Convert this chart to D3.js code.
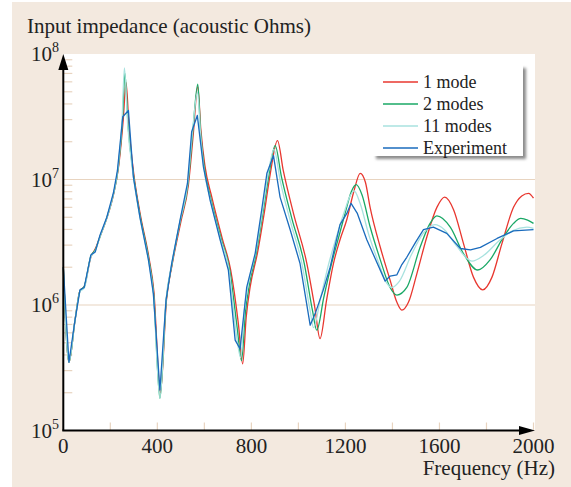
<!DOCTYPE html>
<html>
<head>
<meta charset="utf-8">
<script src="https://d3js.org/d3.v7.min.js"></script>
<style>
    body { margin: 0; background: #ffffff; }
    svg { display: block; font-family: "Liberation Serif", "DejaVu Serif", serif; }
</style>
</head>
<body>
<div id="chart"></div>
<script>
// series values: [frequency (Hz), impedance (acoustic Ohms)]
const oneMode = [
    [0, 2.0e6], [24, 3.5e5], [50, 7.6e5], [71, 1.3e6], [89, 1.4e6], [117, 2.4e6], [136, 2.8e6],
    [156, 3.5e6], [185, 4.9e6], [213, 7.5e6], [236, 1.3e7], [255, 3.0e7], [267, 5.9e7], [280, 2.5e7],
    [300, 1.1e7], [328, 5.2e6], [364, 2.4e6], [385, 1.3e6], [413, 2.0e5], [439, 1.1e6], [463, 2.1e6],
    [500, 4.6e6], [532, 9.0e6], [552, 2.2e7], [572, 5.5e7], [585, 2.5e7], [602, 1.3e7], [632, 7.2e6],
    [676, 3.4e6], [712, 1.9e6], [745, 7.0e5], [763, 3.4e5], [778, 8.0e5], [795, 1.4e6], [826, 2.6e6],
    [856, 5.6e6], [880, 1.1e7], [911, 2.04e7], [936, 1.17e7], [979, 5.37e6], [1036, 2.14e6],
    [1070, 9.5e5], [1092, 5.4e5], [1120, 1.1e6], [1149, 2.14e6], [1177, 3.31e6], [1206, 4.8e6],
    [1234, 7.8e6], [1263, 1.12e7], [1285, 9.5e6], [1305, 6.0e6], [1348, 2.9e6], [1390, 1.58e6],
    [1419, 1.05e6], [1440, 9.1e5], [1468, 1.05e6], [1504, 1.78e6], [1546, 3.47e6], [1589, 6.0e6],
    [1622, 7.24e6], [1660, 5.75e6], [1702, 3.1e6], [1745, 1.66e6], [1784, 1.32e6], [1823, 1.66e6],
    [1866, 3.1e6], [1915, 6.0e6], [1950, 7.4e6], [1979, 7.76e6], [2000, 7.1e6]
];
const twoModes = [
    [0, 2.0e6], [24, 3.5e5], [50, 7.6e5], [71, 1.3e6], [89, 1.4e6], [117, 2.45e6], [136, 2.75e6],
    [156, 3.5e6], [185, 4.95e6], [213, 7.6e6], [234, 1.25e7], [252, 3.0e7], [262, 7.0e7], [276, 2.6e7],
    [299, 1.08e7], [327, 5.1e6], [363, 2.35e6], [384, 1.25e6], [411, 1.8e5], [438, 1.1e6], [462, 2.1e6],
    [498, 4.7e6], [530, 9.1e6], [550, 2.3e7], [572, 5.75e7], [584, 2.4e7], [599, 1.28e7], [628, 7.0e6],
    [672, 3.35e6], [708, 1.9e6], [740, 6.5e5], [758, 3.6e5], [774, 8.5e5], [790, 1.4e6], [821, 2.6e6],
    [851, 5.7e6], [875, 1.1e7], [901, 1.86e7], [928, 1.05e7], [972, 4.9e6], [1025, 2.14e6],
    [1060, 9.0e5], [1078, 6.3e5], [1108, 1.15e6], [1140, 2.1e6], [1170, 3.4e6], [1200, 5.5e6],
    [1225, 8.0e6], [1246, 9.1e6], [1270, 7.6e6], [1305, 4.2e6], [1348, 2.3e6], [1390, 1.38e6],
    [1419, 1.2e6], [1461, 1.38e6], [1518, 2.9e6], [1560, 4.47e6], [1589, 5.13e6], [1646, 4.17e6],
    [1702, 2.57e6], [1763, 1.9e6], [1816, 2.3e6], [1872, 3.47e6], [1915, 4.47e6], [1946, 4.9e6],
    [1975, 4.75e6], [2000, 4.47e6]
];
const elevenModes = [
    [0, 2.0e6], [24, 3.5e5], [50, 7.6e5], [71, 1.28e6], [89, 1.36e6], [117, 2.4e6], [136, 2.7e6],
    [156, 3.5e6], [185, 4.9e6], [213, 7.6e6], [233, 1.25e7], [250, 3.0e7], [260, 7.76e7], [274, 2.7e7],
    [298, 1.06e7], [326, 5.0e6], [362, 2.3e6], [383, 1.24e6], [411, 1.8e5], [437, 1.1e6], [461, 2.1e6],
    [497, 4.7e6], [529, 9.2e6], [549, 2.35e7], [571, 5.0e7], [583, 2.4e7], [597, 1.27e7], [626, 6.9e6],
    [670, 3.3e6], [705, 1.9e6], [736, 5.8e5], [755, 3.8e5], [770, 9.0e5], [785, 1.4e6], [818, 2.6e6],
    [848, 5.7e6], [871, 1.1e7], [896, 1.74e7], [924, 9.5e6], [968, 4.5e6], [1015, 2.14e6],
    [1050, 9.0e5], [1064, 6.6e5], [1095, 1.15e6], [1128, 2.1e6], [1160, 3.4e6], [1195, 5.5e6],
    [1220, 7.4e6], [1237, 8.13e6], [1262, 6.5e6], [1300, 3.6e6], [1340, 2.2e6], [1375, 1.5e6],
    [1397, 1.38e6], [1430, 1.55e6], [1480, 2.5e6], [1530, 3.7e6], [1581, 4.37e6], [1620, 4.0e6],
    [1670, 3.0e6], [1738, 2.24e6], [1790, 2.5e6], [1850, 3.2e6], [1910, 3.9e6], [1972, 4.17e6],
    [2000, 4.07e6]
];
const experiment = [
    [0, 2.0e6], [24, 3.5e5], [50, 7.6e5], [71, 1.32e6], [89, 1.38e6], [117, 2.5e6], [136, 2.65e6],
    [156, 3.6e6], [185, 5.0e6], [213, 7.8e6], [230, 1.17e7], [253, 3.16e7], [277, 3.55e7], [298, 1.05e7],
    [326, 5.0e6], [362, 2.3e6], [383, 1.23e6], [411, 2.1e5], [437, 1.1e6], [461, 2.14e6], [497, 4.8e6],
    [528, 9.3e6], [546, 2.4e7], [570, 3.24e7], [596, 1.26e7], [624, 6.9e6], [667, 3.31e6], [702, 1.9e6],
    [731, 5.25e5], [752, 4.47e5], [780, 1.38e6], [816, 2.57e6], [844, 5.75e6], [866, 1.12e7],
    [894, 1.55e7], [922, 7.24e6], [965, 3.98e6], [1007, 2.14e6], [1050, 6.9e5], [1071, 8.5e5],
    [1106, 1.32e6], [1135, 2.0e6], [1177, 4.37e6], [1206, 5.37e6], [1224, 6.46e6], [1250, 5.4e6],
    [1291, 3.31e6], [1369, 1.55e6], [1390, 1.7e6], [1419, 1.74e6], [1440, 2.1e6], [1461, 2.4e6],
    [1500, 3.2e6], [1532, 3.98e6], [1574, 4.17e6], [1631, 3.72e6], [1689, 2.82e6], [1732, 2.75e6],
    [1774, 2.88e6], [1845, 3.39e6], [1915, 3.89e6], [2000, 3.98e6]
];

const seriesNames = ["1 mode", "2 modes", "11 modes", "Experiment"];
const seriesColors = ["#e8372f", "#1aa866", "#a8e2df", "#1a6bbd"];
const xTicks = [0, 400, 800, 1200, 1600, 2000];
const xMinorTicks = [200, 400, 600, 800, 1000, 1200, 1400, 1600, 1800, 2000];
const yTicks = [1e5, 1e6, 1e7, 1e8];

const width = 571, height = 487;
const plotLeft = 63.3, plotRight = 533.5, plotTop = 54, plotBottom = 430.5;
const beige = "#f3e9df", gridBeige = "#e8d4c0";

const svg = d3.select("#chart")
    .append("svg")
    .attr("width", width)
    .attr("height", height);

// panel background
svg.append("rect")
    .attr("x", 12).attr("y", 2)
    .attr("width", width - 12).attr("height", height - 2)
    .attr("fill", beige);

svg.append("rect")
    .attr("x", plotLeft).attr("y", plotTop)
    .attr("width", 535 - plotLeft).attr("height", plotBottom - plotTop)
    .attr("fill", "#ffffff");

const x = d3.scaleLinear().domain([0, 2000]).range([plotLeft, plotRight]);
const y = d3.scaleLog().domain([1e5, 1e8]).range([plotBottom, plotTop]);

// grid lines at 10^6 and 10^7
svg.selectAll(".grid")
    .data([1e6, 1e7])
    .enter()
    .append("line")
    .attr("class", "grid")
    .attr("x1", plotLeft).attr("x2", 535)
    .attr("y1", d => y(d)).attr("y2", d => y(d))
    .attr("stroke", gridBeige)
    .attr("stroke-width", 1.2);

// minor log ticks on the y axis
const minor = [];
[1e5, 1e6, 1e7].forEach(dec => { for (let k = 2; k <= 9; k++) minor.push(dec * k); });
svg.selectAll(".yminor")
    .data(minor)
    .enter()
    .append("line")
    .attr("x1", plotLeft).attr("x2", plotLeft + 9)
    .attr("y1", d => y(d)).attr("y2", d => y(d))
    .attr("stroke", gridBeige)
    .attr("stroke-width", 1.2);

// x ticks
svg.selectAll(".xminor")
    .data(xMinorTicks)
    .enter()
    .append("line")
    .attr("x1", d => x(d)).attr("x2", d => x(d))
    .attr("y1", plotBottom).attr("y2", plotBottom - 8)
    .attr("stroke", gridBeige)
    .attr("stroke-width", 1.2);

// curves: models are smooth, the experiment is a plain polyline
const modelLine = d3.line()
    .x(d => x(d[0]))
    .y(d => y(d[1]))
    .curve(d3.curveMonotoneX);
const expLine = d3.line()
    .x(d => x(d[0]))
    .y(d => y(d[1]));

[oneMode, twoModes, elevenModes, experiment].forEach((data, i) => {
    svg.append("path")
        .datum(data)
        .attr("d", i === 3 ? expLine : modelLine)
        .attr("fill", "none")
        .attr("stroke", seriesColors[i])
        .attr("stroke-width", 1.3)
        .attr("stroke-linejoin", "round");
});

// axes with arrows
svg.append("line")
    .attr("x1", plotLeft).attr("x2", plotLeft)
    .attr("y1", plotBottom).attr("y2", plotTop + 10)
    .attr("stroke", "#000").attr("stroke-width", 2);
svg.append("path")
    .attr("d", `M${plotLeft},${plotTop} L${plotLeft - 5},${plotTop + 16} L${plotLeft + 5},${plotTop + 16} Z`)
    .attr("fill", "#000");
svg.append("line")
    .attr("x1", plotLeft - 1).attr("x2", 525)
    .attr("y1", plotBottom).attr("y2", plotBottom)
    .attr("stroke", "#000").attr("stroke-width", 2);
svg.append("path")
    .attr("d", `M535,${plotBottom} L519,${plotBottom - 4.5} L519,${plotBottom + 4.5} Z`)
    .attr("fill", "#000");

// tick labels
svg.selectAll(".xlabel")
    .data(xTicks)
    .enter()
    .append("text")
    .attr("x", d => x(d))
    .attr("y", 453)
    .attr("text-anchor", "middle")
    .attr("font-size", "21px")
    .attr("fill", "#222")
    .text(d => d);

const yLabels = svg.selectAll(".ylabel")
    .data(yTicks)
    .enter()
    .append("text")
    .attr("x", 59)
    .attr("y", d => y(d) + 7)
    .attr("text-anchor", "end")
    .attr("font-size", "21px")
    .attr("fill", "#222");
yLabels.append("tspan").text("10");
yLabels.append("tspan")
    .attr("font-size", "14px")
    .attr("dy", -9)
    .text(d => Math.round(Math.log10(d)));

// titles
svg.append("text")
    .attr("x", 27).attr("y", 33)
    .attr("font-size", "21px")
    .attr("fill", "#222")
    .text("Input impedance (acoustic Ohms)");
svg.append("text")
    .attr("x", 555).attr("y", 475)
    .attr("text-anchor", "end")
    .attr("font-size", "21px")
    .attr("fill", "#222")
    .text("Frequency (Hz)");

// legend
const defs = svg.append("defs");
const blur = defs.append("filter").attr("id", "shadow").attr("x", "-10%").attr("y", "-10%").attr("width", "130%").attr("height", "130%");
blur.append("feGaussianBlur").attr("stdDeviation", 1.5);

svg.append("rect")
    .attr("x", 376).attr("y", 68)
    .attr("width", 150).attr("height", 91)
    .attr("fill", "#8a8a8a")
    .attr("filter", "url(#shadow)");
svg.append("rect")
    .attr("x", 373).attr("y", 65)
    .attr("width", 150).attr("height", 91)
    .attr("fill", "#ffffff");

const legend = svg.selectAll(".legend-item")
    .data(seriesNames)
    .enter()
    .append("g")
    .attr("class", "legend-item")
    .attr("transform", (d, i) => `translate(383, ${82 + i * 22})`);

legend.append("line")
    .attr("x1", 0).attr("x2", 35)
    .attr("stroke", (d, i) => seriesColors[i])
    .attr("stroke-width", 1.3);

legend.append("text")
    .attr("x", 40)
    .attr("y", 6)
    .attr("font-size", "18px")
    .attr("fill", "#222")
    .text(d => d);
</script>
</body>
</html>
